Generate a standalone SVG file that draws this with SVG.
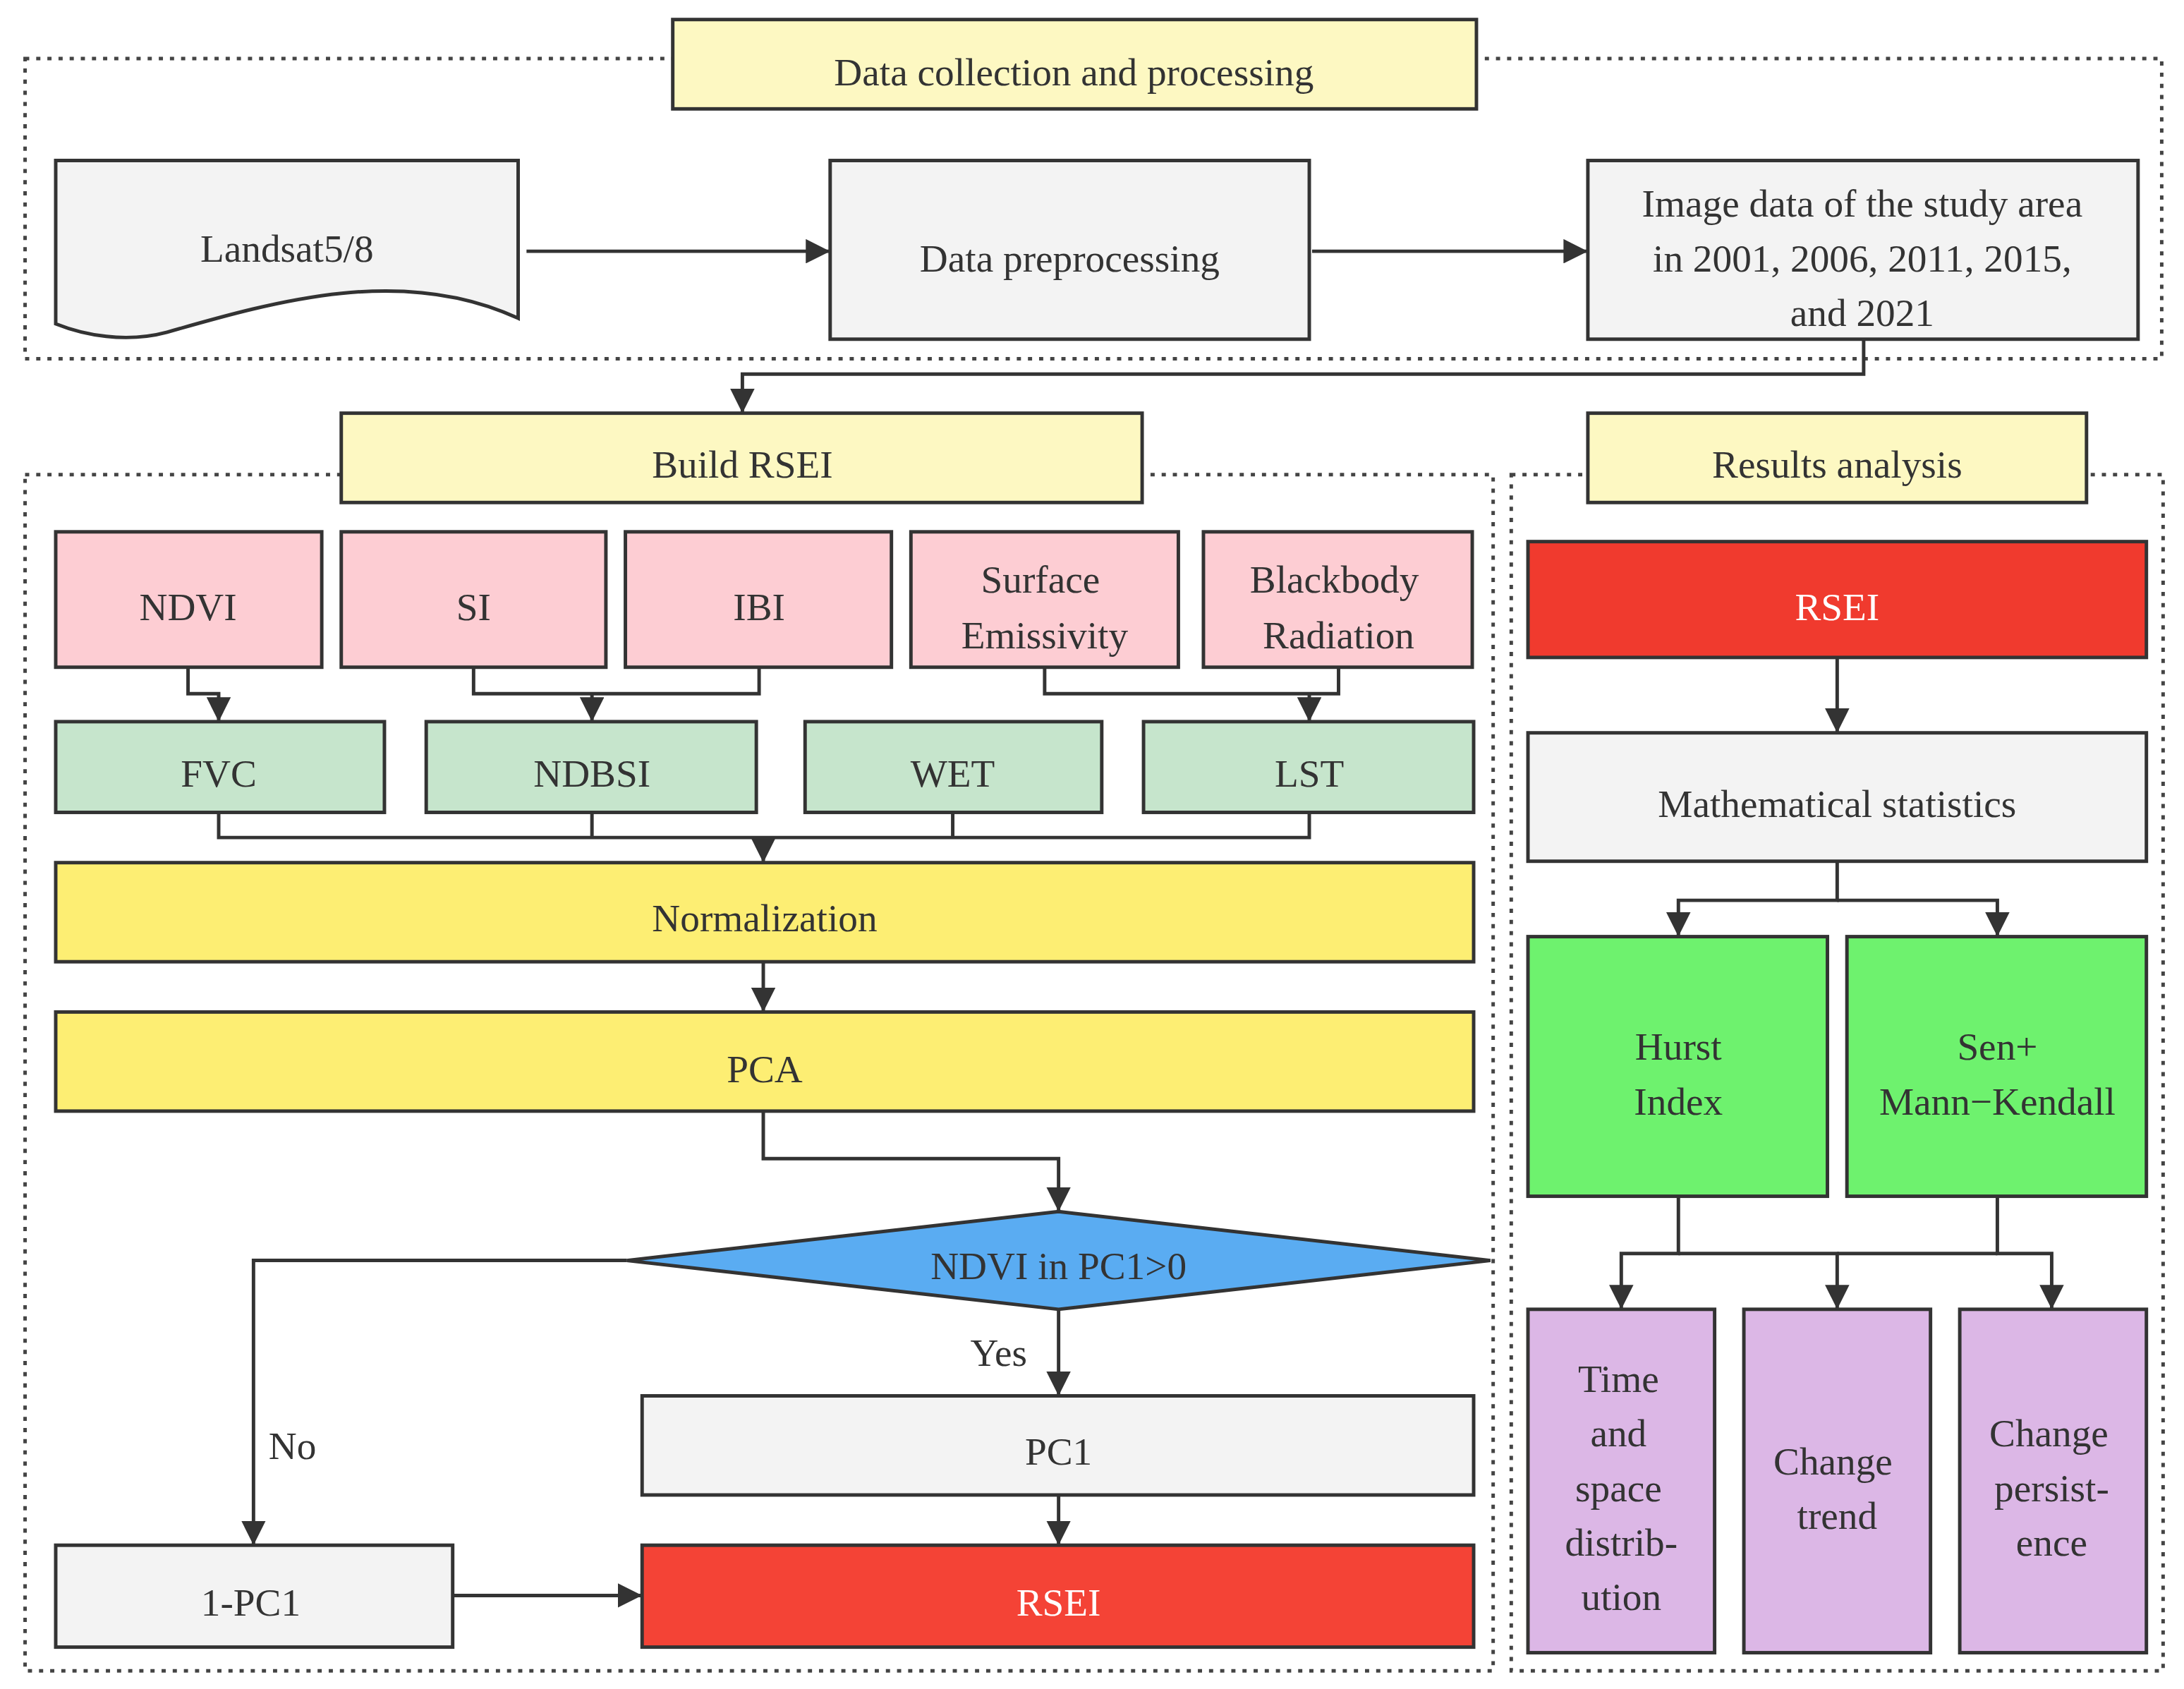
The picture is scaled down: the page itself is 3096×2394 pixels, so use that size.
<svg xmlns="http://www.w3.org/2000/svg" width="3096" height="2394" viewBox="0 0 3096 2394">
<style>
.dot{fill:none;stroke:#444;stroke-width:2.5;stroke-dasharray:3,5}
.b{stroke:#333;stroke-width:2.5}
.t{font-family:"Liberation Serif",serif;font-size:28px;fill:#333;text-anchor:middle;dominant-baseline:central}
.w{fill:#fff}
.c{fill:none;stroke:#333;stroke-width:2.5}
</style>
<defs><marker id="a" viewBox="0 0 10 10" refX="10" refY="5" markerWidth="6" markerHeight="6" orient="auto" markerUnits="userSpaceOnUse"><path d="M0,0L10,5L0,10z" fill="#333"/></marker>
<marker id="m" viewBox="0 0 10 10" refX="10" refY="5" markerWidth="7" markerHeight="7" orient="auto"><path d="M0,0L10,5L0,10z" fill="#333"/></marker></defs>
<rect width="3096" height="2394" fill="#fff"/>
<g transform="scale(1.9745,1.9785)">
<g id="frames">
<rect class="dot" x="18" y="42" width="1534" height="215"/>
<rect class="dot" x="18" y="340" width="1054" height="857"/>
<rect class="dot" x="1085" y="340" width="468" height="857"/>
</g>
<g id="connectors" class="c">
<path d="M378,180H596" marker-end="url(#m)"/>
<path d="M942,180H1140" marker-end="url(#m)"/>
<path d="M1338,243V268H533V296" marker-end="url(#m)"/>
<path d="M135,478V497H157V517" marker-end="url(#m)"/>
<path d="M340,478V497H545V478M425,497V517" marker-end="url(#m)"/>
<path d="M750,478V497H961V478M940,497V517" marker-end="url(#m)"/>
<path d="M157,582V600H940V582M425,582V600M684,582V600M548,600V618" marker-end="url(#m)"/>
<path d="M548,689V725" marker-end="url(#m)"/>
<path d="M548,796V830H760V868" marker-end="url(#m)"/>
<path d="M760,938V1000" marker-end="url(#m)"/>
<path d="M450,903H182V1107" marker-end="url(#m)"/>
<path d="M760,1071V1107" marker-end="url(#m)"/>
<path d="M325,1143H461" marker-end="url(#m)"/>
<path d="M1319,471V525" marker-end="url(#m)"/>
<path d="M1319,617V645H1205V671" marker-end="url(#m)"/>
<path d="M1319,645H1434V671" marker-end="url(#m)"/>
<path d="M1205,857V898H1164V938" marker-end="url(#m)"/>
<path d="M1205,898H1319V938" marker-end="url(#m)"/>
<path d="M1434,857V898H1473V938" marker-end="url(#m)"/>
<path d="M1319,898H1434"/>
</g>
<g id="t1"><rect class="b" x="483" y="14" width="577" height="64" fill="#fdf8c2"/><text class="t" x="771" y="52">Data collection and processing</text></g>
<g id="landsat"><path class="b" fill="#f3f3f3" d="M40,115H372V228C290,190 200,215 120,238C90,246 60,240 40,232Z"/><text class="t" x="206" y="178">Landsat5/8</text></g>
<g id="prep"><rect class="b" x="596" y="115" width="344" height="128" fill="#f3f3f3"/><text class="t" x="768" y="185">Data preprocessing</text></g>
<g id="img"><rect class="b" x="1140" y="115" width="395" height="128" fill="#f3f3f3"/><text class="t" x="1337" y="146">Image data of the study area</text><text class="t" x="1337" y="185">in 2001, 2006, 2011, 2015,</text><text class="t" x="1337" y="224">and 2021</text></g>
<g id="t2"><rect class="b" x="245" y="296" width="575" height="64" fill="#fdf8c2"/><text class="t" x="533" y="333">Build RSEI</text></g>
<g id="t3"><rect class="b" x="1140" y="296" width="358" height="64" fill="#fdf8c2"/><text class="t" x="1319" y="333">Results analysis</text></g>
<g id="ndvi"><rect class="b" x="40" y="381" width="191" height="97" fill="#fdcdd3"/><text class="t" x="135" y="435">NDVI</text></g>
<g id="si"><rect class="b" x="245" y="381" width="190" height="97" fill="#fdcdd3"/><text class="t" x="340" y="435">SI</text></g>
<g id="ibi"><rect class="b" x="449" y="381" width="191" height="97" fill="#fdcdd3"/><text class="t" x="545" y="435">IBI</text></g>
<g id="se"><rect class="b" x="654" y="381" width="192" height="97" fill="#fdcdd3"/><text class="t" x="747" y="415">Surface</text><text class="t" x="750" y="455">Emissivity</text></g>
<g id="bb"><rect class="b" x="864" y="381" width="193" height="97" fill="#fdcdd3"/><text class="t" x="958" y="415">Blackbody</text><text class="t" x="961" y="455">Radiation</text></g>
<g id="fvc"><rect class="b" x="40" y="517" width="236" height="65" fill="#c6e5cc"/><text class="t" x="157" y="554">FVC</text></g>
<g id="ndbsi"><rect class="b" x="306" y="517" width="237" height="65" fill="#c6e5cc"/><text class="t" x="425" y="554">NDBSI</text></g>
<g id="wet"><rect class="b" x="578" y="517" width="213" height="65" fill="#c6e5cc"/><text class="t" x="684" y="554">WET</text></g>
<g id="lst"><rect class="b" x="821" y="517" width="237" height="65" fill="#c6e5cc"/><text class="t" x="940" y="554">LST</text></g>
<g id="norm"><rect class="b" x="40" y="618" width="1018" height="71" fill="#fdee73"/><text class="t" x="549" y="658">Normalization</text></g>
<g id="pca"><rect class="b" x="40" y="725" width="1018" height="71" fill="#fdee73"/><text class="t" x="549" y="766">PCA</text></g>
<g id="dia"><path class="b" fill="#5aacf2" d="M450,903L760,868L1070,903L760,938Z"/><text class="t" x="760" y="907">NDVI in PC1&gt;0</text></g>
<text class="t" x="717" y="969">Yes</text>
<text class="t" x="210" y="1036">No</text>
<g id="pc1"><rect class="b" x="461" y="1000" width="597" height="71" fill="#f3f3f3"/><text class="t" x="760" y="1040">PC1</text></g>
<g id="npc1"><rect class="b" x="40" y="1107" width="285" height="73" fill="#f3f3f3"/><text class="t" x="180" y="1148">1-PC1</text></g>
<g id="rsei"><rect class="b" x="461" y="1107" width="597" height="73" fill="#f44336"/><text class="t w" x="760" y="1148">RSEI</text></g>
<g id="rsei2"><rect class="b" x="1097" y="388" width="444" height="83" fill="#f03a2e"/><text class="t w" x="1319" y="435">RSEI</text></g>
<g id="math"><rect class="b" x="1097" y="525" width="444" height="92" fill="#f3f3f3"/><text class="t" x="1319" y="576">Mathematical statistics</text></g>
<g id="hurst"><rect class="b" x="1097" y="671" width="215" height="186" fill="#6ef26e"/><text class="t" x="1205" y="750">Hurst</text><text class="t" x="1205" y="789">Index</text></g>
<g id="sen"><rect class="b" x="1326" y="671" width="215" height="186" fill="#6ef26e"/><text class="t" x="1434" y="750">Sen+</text><text class="t" x="1434" y="789">Mann−Kendall</text></g>
<g id="p1"><rect class="b" x="1097" y="938" width="134" height="246" fill="#dcb7e6"/><text class="t" x="1162" y="988">Time</text><text class="t" x="1162" y="1027">and</text><text class="t" x="1162" y="1066">space</text><text class="t" x="1164" y="1105">distrib-</text><text class="t" x="1164" y="1144">ution</text></g>
<g id="p2"><rect class="b" x="1252" y="938" width="134" height="246" fill="#dcb7e6"/><text class="t" x="1316" y="1047">Change</text><text class="t" x="1319" y="1086">trend</text></g>
<g id="p3"><rect class="b" x="1407" y="938" width="134" height="246" fill="#dcb7e6"/><text class="t" x="1471" y="1027">Change</text><text class="t" x="1473" y="1066">persist-</text><text class="t" x="1473" y="1105">ence</text></g>
</g>
</svg>
